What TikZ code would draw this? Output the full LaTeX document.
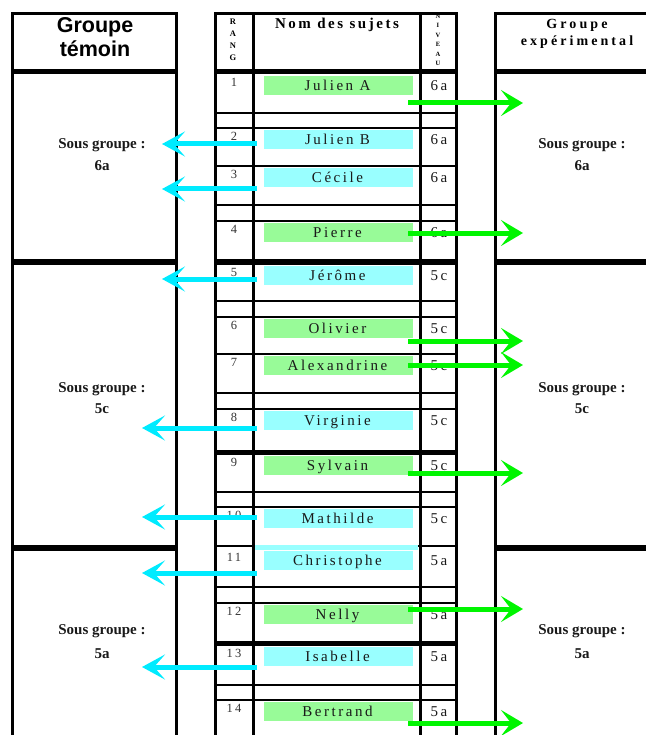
\documentclass[tikz,border=0pt]{standalone}
\usepackage{fontspec}
\setmainfont{Liberation Serif}
\usetikzlibrary{arrows.meta}
\newfontfamily\spacedF[LetterSpace=17]{Liberation Serif}
\newfontfamily\spacedH[LetterSpace=22]{Liberation Serif}
\newfontfamily\sansF{Liberation Sans}
\definecolor{hlgreen}{RGB}{152,251,152}
\definecolor{hlcyan}{RGB}{153,255,255}
\definecolor{argreen}{RGB}{0,245,0}
\definecolor{arcyan}{RGB}{0,235,255}
\definecolor{txt}{RGB}{25,25,25}
\tikzset{
  gridline/.style={line width=2pt, black},
  heavyrule/.style={line width=5.5pt, black},
  border/.style={line width=3pt, black},
  nametxt/.style={anchor=base, inner sep=0pt, text=txt, font=\spacedF\fontsize{15}{15}\selectfont},
  rangtxt/.style={anchor=base, inner sep=0pt, text=black!80, font=\spacedF\fontsize{12.5}{12.5}\selectfont},
  nivtxt/.style={anchor=base, inner sep=0pt, text=txt, font=\spacedF\fontsize{15}{15}\selectfont},
  sgtxt/.style={anchor=base, inner sep=0pt, text=txt, font=\bfseries\fontsize{15}{15}\selectfont},
  vlet/.style={anchor=base, inner sep=0pt, font=\bfseries\fontsize{8.5}{8.5}\selectfont},
  vlets/.style={anchor=base, inner sep=0pt, font=\bfseries\fontsize{6.5}{6.5}\selectfont},
  hl/.style={inner sep=0pt, minimum width=149pt, minimum height=19pt, anchor=north west},
  garrow/.style={argreen, line width=5pt, -{Stealth[length=22pt,width=26pt,inset=10pt]}},
  carrow/.style={arcyan, line width=5pt, -{Stealth[length=23pt,width=25pt,inset=11pt]}},
}
\begin{document}
\begin{tikzpicture}[x=1pt,y=-1pt]
\useasboundingbox (0,0) rectangle (645,735);
% thin row lines of the middle table
\foreach \yy in {113,128,166,205,221,301,317,354,393,409,492,507,546,587,603,685,700}
  \draw[gridline] (215.5,\yy) -- (456.5,\yy);
% heavy rules
\foreach \yy in {71.5,262,452.5,643.5}
  \draw[heavyrule] (215.5,\yy) -- (456.5,\yy);
\foreach \yy in {71.5,262,548}{
  \draw[heavyrule] (12,\yy) -- (176.5,\yy);
  \draw[heavyrule] (495,\yy) -- (650,\yy);
}
% borders
\draw[border] (12,740) -- (12,14) -- (176.5,14) -- (176.5,740);
\draw[border] (495,740) -- (495,14) -- (650,14);
\draw[border] (215.5,740) -- (215.5,14) -- (456.5,14) -- (456.5,740);
\draw[border] (253,14) -- (253,740);
\draw[border] (420.5,14) -- (420.5,740);
% headers
\node[anchor=base, inner sep=0pt, font=\sansF\bfseries\fontsize{21.5}{21.5}\selectfont] (gt1) at (95,33) {Groupe};
\node[anchor=base, inner sep=0pt, font=\sansF\bfseries\fontsize{21.5}{21.5}\selectfont] (gt2) at (95,57) {témoin};
\node[anchor=base, inner sep=0pt, font=\spacedH\bfseries\fontsize{14}{14}\selectfont] (ge1) at (577,29) {Groupe};
\node[anchor=base, inner sep=0pt, font=\spacedH\bfseries\fontsize{14}{14}\selectfont] (ge2) at (577,46) {expérimental};
\node[anchor=base, inner sep=0pt, font=\spacedF\bfseries\fontsize{15}{15}\selectfont] (nds) at (337,29) {Nom des sujets};
\foreach \l/\yy [count=\k] in {R/25,A/37,N/49,G/61}
  \node[vlet] (rg\k) at (233,\yy) {\l};
\foreach \l/\yy [count=\k] in {N/18.5,I/28,V/37.5,E/47,A/56.5,U/66}
  \node[vlets] (nv\k) at (438,\yy) {\l};
% sous groupe labels
\foreach \yy/\ll/\lv [count=\k] in {149/171/6a,392/413/5c,634/658/5a}{
  \node[sgtxt] (sgl\k) at (102,\yy) {Sous groupe :};
  \node[sgtxt] (sglv\k) at (102,\ll) {\lv};
  \node[sgtxt] (sgr\k) at (582,\yy) {Sous groupe :};
  \node[sgtxt] (sgrv\k) at (582,\ll) {\lv};
}
% Christophe strip
\fill[hlcyan] (255,545) rectangle (418,550);
% rows
\foreach \tp/\nm/\nv/\col [count=\k] in {
  74/Julien A/6a/hlgreen, 128/Julien B/6a/hlcyan, 166/Cécile/6a/hlcyan,
  221/Pierre/6a/hlgreen, 264/Jérôme/5c/hlcyan, 317/Olivier/5c/hlgreen,
  354/Alexandrine/5c/hlgreen, 409/Virginie/5c/hlcyan, 454/Sylvain/5c/hlgreen,
  507/Mathilde/5c/hlcyan, 549/Christophe/5a/hlcyan, 603/Nelly/5a/hlgreen,
  645/Isabelle/5a/hlcyan, 700/Bertrand/5a/hlgreen}{
  \node[hl, fill=\col] (h\k) at (264,\tp+2) {};
  \node[nametxt] (n\k) at (337.5,\tp+16.5) {\nm};
  \node[rangtxt] (r\k) at (234,\tp+12.5) {\k};
  \node[nivtxt] (v\k) at (439,\tp+16.5) {\nv};
}
% arrows to experimental group
\foreach \yy/\k in {103/1,233/4,341/6,365/7,473/9,609/12,723/14}{
  \coordinate (gs\k) at (408,\yy);
  \coordinate (ge\k) at (523,\yy);
  \draw[garrow] (gs\k) -- (ge\k);
}
% arrows to control group
\foreach \yy/\tx/\k in {144/162/2,189/162/3,279/162/5,428/142/8,517/142/10,573/142/11,667/142/13}{
  \coordinate (cs\k) at (257,\yy);
  \coordinate (ce\k) at (\tx,\yy);
  \draw[carrow] (cs\k) -- (ce\k);
}
\end{tikzpicture}
\end{document}
